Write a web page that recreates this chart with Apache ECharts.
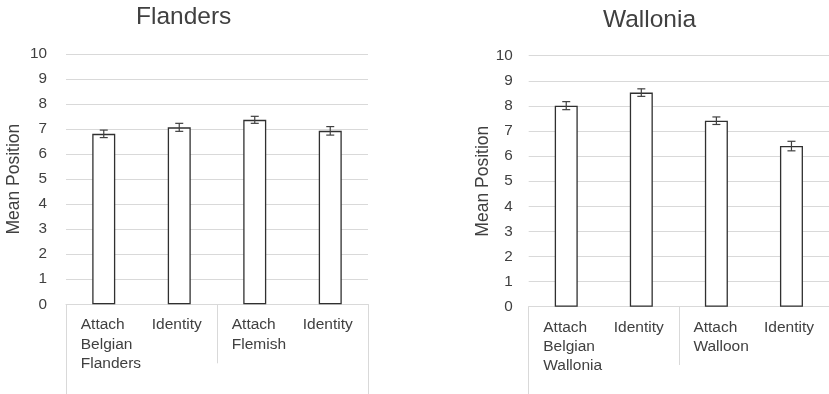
<!DOCTYPE html>
<html>
<head>
<meta charset="utf-8">
<script src="https://cdn.jsdelivr.net/npm/echarts@6/dist/echarts.min.js"></script>
<style>
  html, body { margin: 0; padding: 0; background: #ffffff; }
  #chart { width: 829px; height: 394px; }
</style>
</head>
<body>
<div id="chart"></div>
<script>
// Mean position per attachment / identity item, with error margins
const flandersCats = ['Attach\nBelgian\nFlanders', 'Identity', 'Attach\nFlemish', 'Identity'];
const flandersMeans = [6.81, 7.07, 7.37, 6.93];
const flandersErr = [0.15, 0.16, 0.14, 0.17];

const walloniaCats = ['Attach\nBelgian\nWallonia', 'Identity', 'Attach\nWalloon', 'Identity'];
const walloniaMeans = [8.01, 8.53, 7.41, 6.40];
const walloniaErr = [0.16, 0.15, 0.15, 0.19];

const panelTitles = ['Flanders', 'Wallonia'];
const yAxisTitle = 'Mean Position';
const yMin = 0, yMax = 10, yStep = 1;

// Group slots used only to draw the bracket lines under the category labels
const groupSlots = ['', ''];
const outerSlot = [''];

const FONT = '"Liberation Sans", Arial, sans-serif';
const TEXT = '#404040';
const FRAME = '#d9d9d9';

const chart = echarts.init(document.getElementById('chart'), null, { renderer: 'canvas' });

function catFormatter(value) {
  const key = value.indexOf('Attach') === 0 ? 'a' : 'b';
  return value.split('\n').map(function (l) { return '{' + key + '|' + l + '}'; }).join('\n');
}

function labelRich() {
  const base = { fontSize: 15.5, lineHeight: 19.3, color: TEXT, fontFamily: FONT, align: 'left' };
  return {
    a: Object.assign({ width: 46 }, base),
    b: Object.assign({ width: 55 }, base)
  };
}

function mainX(grid, cats) {
  return {
    type: 'category', gridIndex: grid, position: 'bottom', data: cats,
    axisLine: { show: true, lineStyle: { color: FRAME, width: 1 } },
    axisTick: { show: false },
    axisLabel: { interval: 0, margin: 11, formatter: catFormatter, rich: labelRich() },
    splitLine: { show: false }
  };
}

function bracketX(grid, slots, len) {
  return {
    type: 'category', gridIndex: grid, position: 'bottom', data: slots,
    axisLine: { show: false },
    axisTick: { show: true, interval: 0, length: len, lineStyle: { color: FRAME, width: 1 } },
    axisLabel: { show: false },
    splitLine: { show: false }
  };
}

function valueY(grid, labelMargin, nameGap) {
  return {
    type: 'value', gridIndex: grid, min: yMin, max: yMax, interval: yStep,
    name: yAxisTitle, nameLocation: 'middle', nameGap: nameGap, nameRotate: 90,
    nameTextStyle: { fontSize: 17.5, color: TEXT, fontFamily: FONT },
    axisLine: { show: false },
    axisTick: { show: false },
    axisLabel: { margin: labelMargin, fontSize: 15.3, color: TEXT, fontFamily: FONT },
    splitLine: { show: true, lineStyle: { color: FRAME, width: 1 } }
  };
}

function barSeries(xi, yi, means) {
  return {
    type: 'bar', xAxisIndex: xi, yAxisIndex: yi, data: means, barWidth: 23,
    itemStyle: { color: '#ffffff', borderColor: '#303030', borderWidth: 1.3 },
    emphasis: { disabled: true }, z: 2
  };
}

function errorSeries(xi, yi, means, errs) {
  return {
    type: 'custom', xAxisIndex: xi, yAxisIndex: yi, z: 3,
    data: means.map(function (m, i) { return [i, m, errs[i]]; }),
    renderItem: function (params, api) {
      const i = api.value(0), m = api.value(1), e = api.value(2);
      const hi = api.coord([i, m + e]);
      const lo = api.coord([i, m - e]);
      const hw = 4;
      const st = { stroke: '#404040', lineWidth: 1.2 };
      return {
        type: 'group',
        children: [
          { type: 'line', shape: { x1: hi[0], y1: hi[1], x2: lo[0], y2: lo[1] }, style: st },
          { type: 'line', shape: { x1: hi[0] - hw, y1: hi[1], x2: hi[0] + hw, y2: hi[1] }, style: st },
          { type: 'line', shape: { x1: lo[0] - hw, y1: lo[1], x2: lo[0] + hw, y2: lo[1] }, style: st }
        ]
      };
    }
  };
}

const option = {
  backgroundColor: '#ffffff',
  animation: false,
  textStyle: { fontFamily: FONT },
  title: [
    { text: panelTitles[0], left: 136, top: 5, padding: 0,
      textStyle: { fontSize: 24.5, fontWeight: 'normal', color: TEXT, fontFamily: FONT } },
    { text: panelTitles[1], left: 603, top: 8, padding: 0,
      textStyle: { fontSize: 24.5, fontWeight: 'normal', color: TEXT, fontFamily: FONT } }
  ],
  grid: [
    { left: 66, top: 54, width: 302, height: 250.3, containLabel: false },
    { left: 528.7, top: 55.7, width: 306.4, height: 251, containLabel: false }
  ],
  xAxis: [
    mainX(0, flandersCats),
    bracketX(0, groupSlots, 59),
    bracketX(0, outerSlot, 90),
    mainX(1, walloniaCats),
    bracketX(1, groupSlots, 58.3),
    bracketX(1, outerSlot, 88)
  ],
  yAxis: [
    valueY(0, 19, 43),
    valueY(1, 16, 37)
  ],
  series: [
    barSeries(0, 0, flandersMeans),
    errorSeries(0, 0, flandersMeans, flandersErr),
    barSeries(3, 1, walloniaMeans),
    errorSeries(3, 1, walloniaMeans, walloniaErr)
  ]
};

chart.setOption(option);
</script>
</body>
</html>
